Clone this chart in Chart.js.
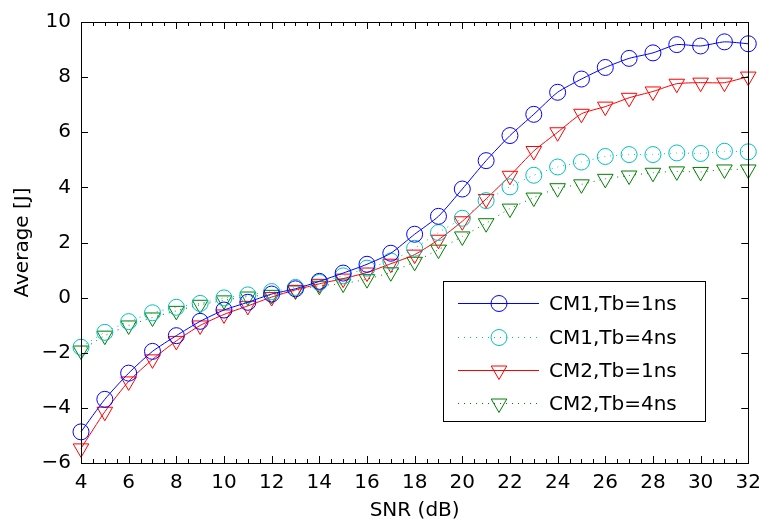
<!DOCTYPE html>
<html>
<head>
<meta charset="utf-8">
<script src="https://cdn.jsdelivr.net/npm/chart.js@4"></script>
<style>
  html, body { margin: 0; padding: 0; background: #fff; }
  #wrap { width: 769px; height: 527px; }
</style>
</head>
<body>
<div id="wrap"><canvas id="avg"></canvas></div>
<script>
const snr = [4, 5, 6, 7, 8, 9, 10, 11, 12, 13, 14, 15, 16, 17, 18, 19, 20, 21, 22, 23, 24, 25, 26, 27, 28, 29, 30, 31, 32];

const cm1Tb1 = [-4.87, -3.69, -2.74, -1.95, -1.38, -0.86, -0.45, -0.17, 0.13, 0.32, 0.59, 0.89, 1.21, 1.61, 2.30, 2.95, 3.94, 4.97, 5.88, 6.65, 7.45, 7.93, 8.35, 8.68, 8.88, 9.18, 9.13, 9.28, 9.21];
const cm1Tb4 = [-1.80, -1.26, -0.87, -0.55, -0.35, -0.21, -0.01, 0.10, 0.22, 0.37, 0.55, 0.79, 1.07, 1.33, 1.79, 2.36, 2.88, 3.52, 4.02, 4.44, 4.74, 4.92, 5.12, 5.19, 5.19, 5.25, 5.23, 5.31, 5.29];
const cm2Tb1 = [-5.47, -4.14, -3.04, -2.24, -1.57, -1.01, -0.61, -0.30, 0.02, 0.28, 0.50, 0.69, 0.91, 1.23, 1.56, 2.10, 2.77, 3.58, 4.42, 5.32, 6.00, 6.67, 6.93, 7.25, 7.48, 7.76, 7.80, 7.80, 8.02];
const cm2Tb4 = [-1.92, -1.38, -1.01, -0.72, -0.48, -0.26, -0.10, 0.04, 0.10, 0.26, 0.43, 0.51, 0.67, 0.92, 1.30, 1.74, 2.22, 2.70, 3.23, 3.63, 3.97, 4.11, 4.31, 4.43, 4.53, 4.58, 4.56, 4.65, 4.65];

const seriesNames = ['CM1,Tb=1ns', 'CM1,Tb=4ns', 'CM2,Tb=1ns', 'CM2,Tb=4ns'];
const xTicks = [4, 6, 8, 10, 12, 14, 16, 18, 20, 22, 24, 26, 28, 30, 32];
const yTicks = [-6, -4, -2, 0, 2, 4, 6, 8, 10];

const FONT = '"DejaVu Sans", sans-serif';

function pts(ys) {
  return snr.map((x, i) => ({ x: x, y: ys[i] }));
}

function ds(label, ys, color, marker, dotted) {
  return {
    label: label,
    data: pts(ys),
    borderColor: color,
    backgroundColor: 'rgba(0,0,0,0)',
    borderWidth: 1,
    borderDash: dotted ? [1, 5] : [],
    pointStyle: marker,
    pointRotation: marker === 'triangle' ? 180 : 0,
    pointRadius: marker === 'triangle' ? 9 : 8,
    pointBorderWidth: 1,
    pointBorderColor: color,
    pointBackgroundColor: 'rgba(0,0,0,0)',
    tension: 0.2,
    clip: false
  };
}

// MATLAB-like box, inward ticks and legend inside the axes
const matlabAxes = {
  id: 'matlabAxes',
  afterDatasetsDraw(chart) {
    const { ctx, chartArea: a, scales } = chart;
    const xs = scales.x, ys = scales.y;
    ctx.save();
    ctx.strokeStyle = '#000';
    ctx.lineWidth = 1;
    ctx.beginPath();
    for (let v = 4; v <= 32.001; v += 0.5) {
      const px = Math.round(xs.getPixelForValue(v)) + 0.5;
      const len = (v % 2 === 0) ? 7 : 4;
      ctx.moveTo(px, a.bottom); ctx.lineTo(px, a.bottom - len);
      ctx.moveTo(px, a.top); ctx.lineTo(px, a.top + len);
    }
    yTicks.forEach(v => {
      const py = Math.round(ys.getPixelForValue(v)) + 0.5;
      ctx.moveTo(a.left, py); ctx.lineTo(a.left + 7, py);
      ctx.moveTo(a.right, py); ctx.lineTo(a.right - 7, py);
    });
    ctx.stroke();
    ctx.strokeRect(Math.round(a.left) + 0.5, Math.round(a.top) + 0.5,
      Math.round(a.right - a.left), Math.round(a.bottom - a.top));

    // legend
    const bx = 443, by = 281, bw = 262, bh = 140;
    ctx.fillStyle = '#fff';
    ctx.fillRect(bx, by, bw, bh);
    ctx.strokeRect(bx + 0.5, by + 0.5, bw, bh);
    const rows = [303, 337, 370, 403];
    chart.data.datasets.forEach((d, i) => {
      const y = rows[i] + 0.5;
      ctx.strokeStyle = d.borderColor;
      ctx.setLineDash(d.borderDash);
      ctx.beginPath();
      ctx.moveTo(458, y); ctx.lineTo(539, y);
      ctx.stroke();
      ctx.setLineDash([]);
      ctx.fillStyle = 'rgba(0,0,0,0)';
      Chart.helpers.drawPoint(ctx, {
        pointStyle: d.pointStyle,
        rotation: d.pointRotation,
        radius: d.pointRadius,
        borderWidth: 1
      }, 499, y);
      ctx.fillStyle = '#000';
      ctx.font = '20px ' + FONT;
      ctx.textBaseline = 'middle';
      ctx.textAlign = 'left';
      ctx.fillText(d.label, 549, y + 1);
    });
    ctx.restore();
  }
};

const minus = v => String(v).replace('-', '\u2212');

new Chart(document.getElementById('avg'), {
  type: 'line',
  data: {
    datasets: [
      ds(seriesNames[0], cm1Tb1, '#0000ff', 'circle', false),
      ds(seriesNames[1], cm1Tb4, '#00bfbf', 'circle', true),
      ds(seriesNames[2], cm2Tb1, '#ff0000', 'triangle', false),
      ds(seriesNames[3], cm2Tb4, '#008000', 'triangle', true)
    ]
  },
  options: {
    responsive: true,
    maintainAspectRatio: false,
    animation: false,
    layout: { padding: { top: 20, right: 15, left: 0, bottom: 0 } },
    plugins: {
      legend: { display: false },
      tooltip: { enabled: false }
    },
    scales: {
      x: {
        type: 'linear',
        min: 4,
        max: 32,
        afterFit: s => { s.height = 64; },
        afterBuildTicks: s => { s.ticks = xTicks.map(v => ({ value: v })); },
        grid: { display: true, drawOnChartArea: false, drawTicks: false },
        border: { display: false },
        ticks: { color: '#000', font: { family: FONT, size: 20 }, padding: 8, maxRotation: 0 },
        title: { display: true, text: 'SNR (dB)', color: '#000', font: { family: FONT, size: 20 }, padding: { top: 0, bottom: 4 } }
      },
      y: {
        type: 'linear',
        min: -6,
        max: 10,
        afterFit: s => { s.width = 81; },
        afterBuildTicks: s => { s.ticks = yTicks.map(v => ({ value: v })); },
        grid: { display: true, drawOnChartArea: false, drawTicks: false },
        border: { display: false },
        ticks: { color: '#000', font: { family: FONT, size: 20 }, padding: 10, callback: v => minus(v) },
        title: { display: true, text: 'Average [J]', color: '#000', font: { family: FONT, size: 20 }, padding: { top: 11, bottom: 6 } }
      }
    }
  },
  plugins: [matlabAxes]
});
</script>
</body>
</html>
